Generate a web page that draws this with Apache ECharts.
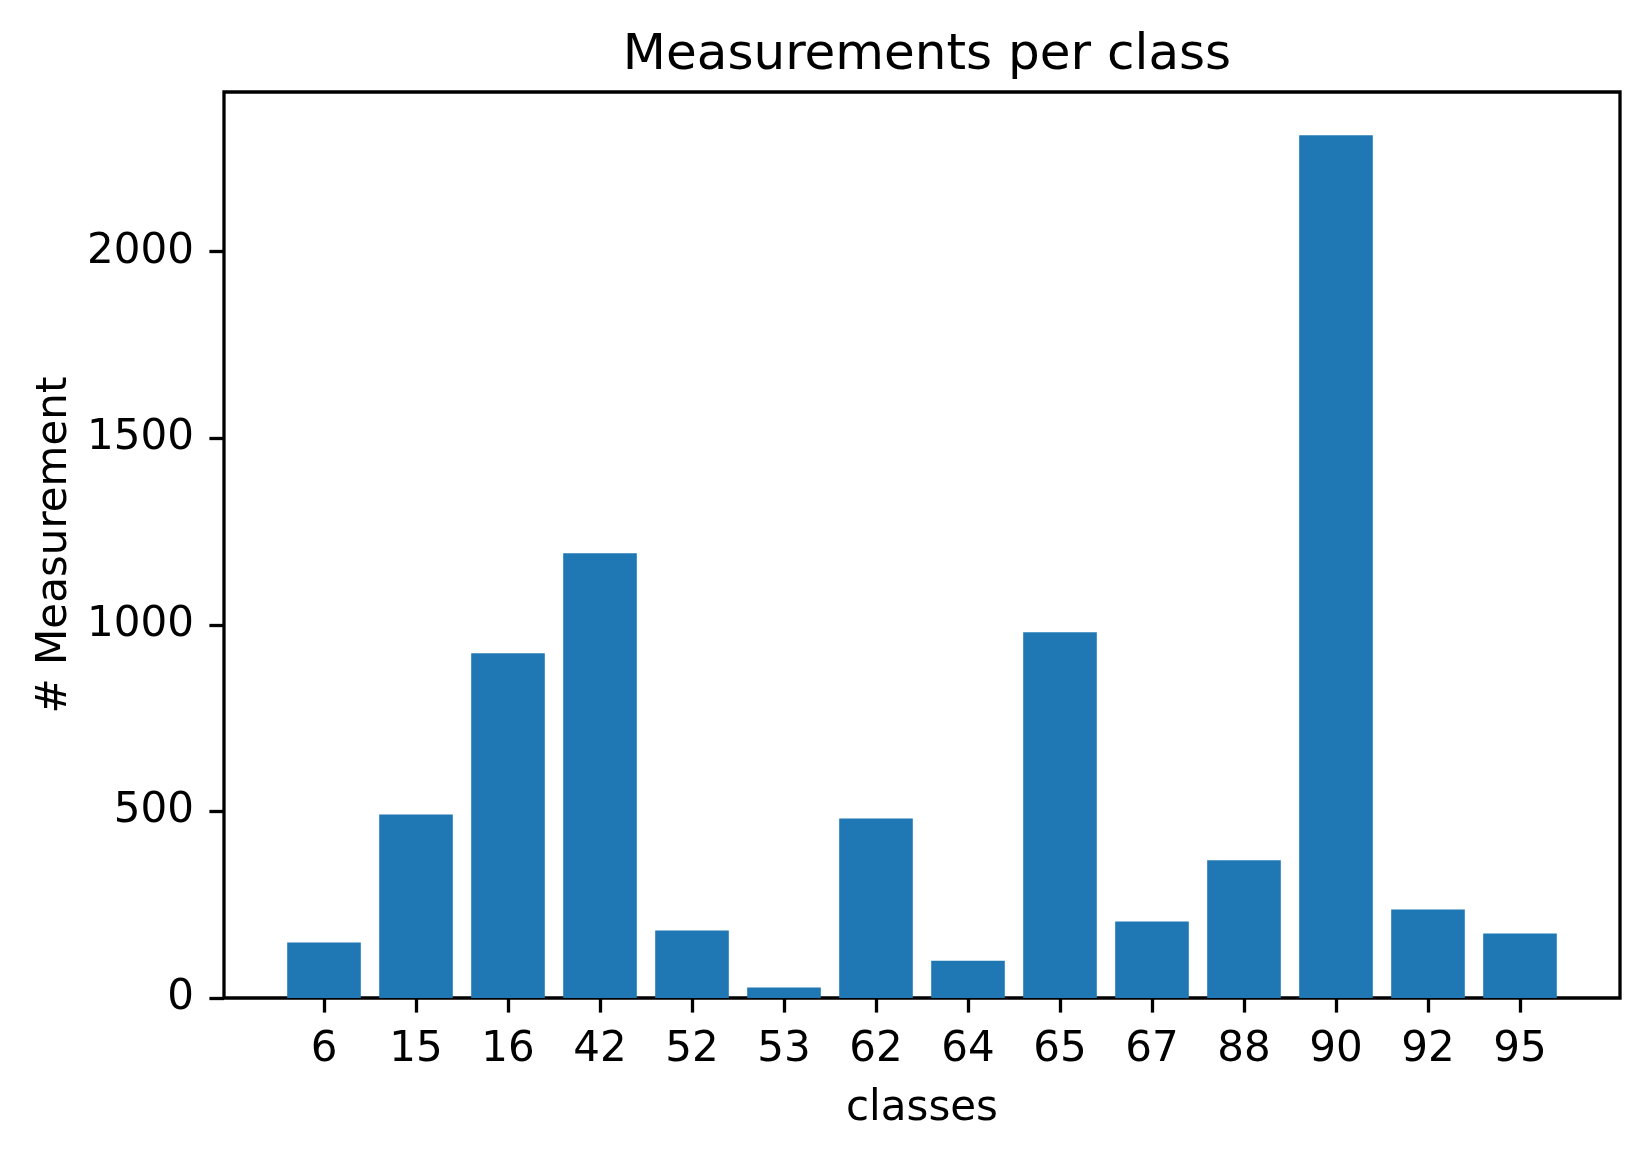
<!DOCTYPE html>
<html>
<head>
<meta charset="utf-8">
<script src="https://cdn.jsdelivr.net/npm/echarts@6/dist/echarts.min.js"></script>
<style>
html,body{margin:0;padding:0;background:#fff;}
#chart{width:1648px;height:1158px;}
</style>
</head>
<body>
<div id="chart"></div>
<script>
const classes = ['6','15','16','42','52','53','62','64','65','67','88','90','92','95'];
const measurements = [149, 492, 924, 1192, 181, 28, 481, 100, 980, 205, 369, 2312, 237, 173];
const yTicks = [0, 500, 1000, 1500, 2000];
const titleText = 'Measurements per class';
const xName = 'classes';
const yName = '# Measurement';

const positions = classes.map((c, i) => i);
const barData = measurements.map((v, i) => [positions[i], v]);

const FONT = 'DejaVu Sans';
const chart = echarts.init(document.getElementById('chart'), null, {renderer: 'canvas'});
chart.setOption({
  animation: false,
  backgroundColor: '#ffffff',
  textStyle: {fontFamily: FONT, color: '#000'},
  title: {
    text: titleText,
    left: 922, top: 26,
    textAlign: 'center',
    textStyle: {fontFamily: FONT, fontSize: 50, fontWeight: 'normal', color: '#000', lineHeight: 50}
  },
  grid: {
    left: 224, top: 92, width: 1396, height: 906,
    show: true, borderColor: '#000', borderWidth: 3.3, backgroundColor: 'transparent',
    containLabel: false
  },
  xAxis: {
    type: 'value',
    min: -1.087, max: 14.087,
    name: xName, nameLocation: 'middle', nameGap: 90,
    nameTextStyle: {fontFamily: FONT, fontSize: 42, color: '#000', lineHeight: 42},
    axisLine: {show: false, onZero: false},
    splitLine: {show: false},
    axisTick: {show: true, length: 14.6, inside: false, lineStyle: {color: '#000', width: 3.3}, customValues: positions},
    axisLabel: {
      fontFamily: FONT, fontSize: 42, color: '#000', margin: 31, lineHeight: 42,
      customValues: positions,
      formatter: function (v) { const k = Math.round(v); return classes[k] !== undefined ? classes[k] : ''; }
    }
  },
  yAxis: {
    type: 'value',
    min: 0, max: 2428,
    name: yName, nameLocation: 'middle', nameGap: 148, nameRotate: 90,
    nameTextStyle: {fontFamily: FONT, fontSize: 42, color: '#000', lineHeight: 42},
    axisLine: {show: false, onZero: false},
    splitLine: {show: false},
    axisTick: {show: true, length: 14.6, inside: false, lineStyle: {color: '#000', width: 3.3}, customValues: yTicks},
    axisLabel: {
      fontFamily: FONT, fontSize: 42, color: '#000', margin: 30,
      padding: [6, 0, 0, 0],
      customValues: yTicks,
      formatter: function (v) { return String(v); }
    }
  },
  series: [{
    type: 'bar',
    data: barData,
    barWidth: '80%',
    itemStyle: {color: '#1f77b4'},
    z: 1
  }]
});
</script>
</body>
</html>
